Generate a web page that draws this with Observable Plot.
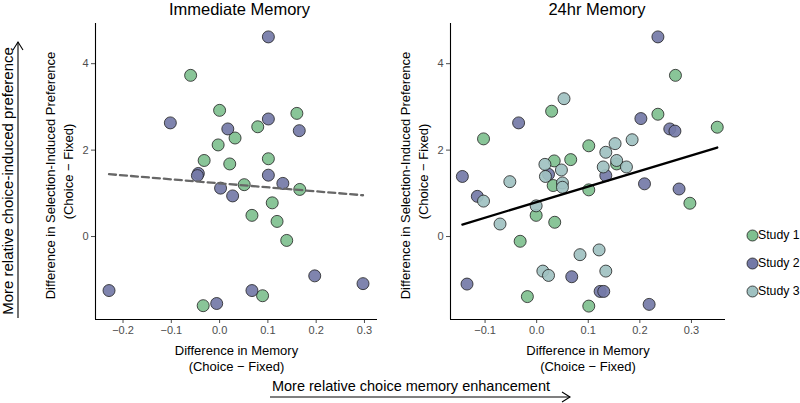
<!DOCTYPE html>
<html><head><meta charset="utf-8">
<script src="https://cdn.jsdelivr.net/npm/d3@7"></script>
<script src="https://cdn.jsdelivr.net/npm/@observablehq/plot@0.6"></script>
<style>
body{margin:0;background:#fff;font-family:"Liberation Sans",Arial,sans-serif}
#wrap{position:relative;width:800px;height:403px;overflow:hidden;background:#fff}
#wrap > *{position:absolute}
</style></head><body><div id="wrap"></div>
<script>
// ---- data ----
const studies = ["Study 1", "Study 2", "Study 3"];
const studyColors = ["#7fc08f", "#7479a7", "#9fc1c1"];
const panelTitles = ["Immediate Memory", "24hr Memory"];
const yTitle = ["Difference in Selection-Induced Preference", "(Choice \u2212 Fixed)"];
const xTitle = ["Difference in Memory", "(Choice \u2212 Fixed)"];
const yTicks = [0, 2, 4];
const xTicksImm = [-0.2, -0.1, 0.0, 0.1, 0.2, 0.3];
const xTicks24 = [-0.1, 0.0, 0.1, 0.2, 0.3];

// Immediate memory: [memory difference, preference difference]
const immStudy1 = [[-0.060,3.73],[0.000,2.92],[0.160,2.85],[0.079,2.54],[0.032,2.28],[-0.003,2.12],[-0.032,1.76],[0.021,1.68],[0.101,1.80],[0.051,1.20],[0.166,1.09],[0.109,0.78],[0.067,0.49],[0.119,0.35],[0.139,-0.09],[0.089,-1.37],[-0.034,-1.60]];
const immStudy2 = [[0.101,4.62],[-0.102,2.63],[0.017,2.49],[0.101,2.72],[0.165,2.45],[-0.044,1.46],[-0.046,1.41],[0.002,1.12],[0.027,0.94],[0.101,1.42],[0.131,1.23],[-0.229,-1.25],[0.067,-1.25],[-0.006,-1.55],[0.197,-0.91],[0.297,-1.09]];
// 24hr memory
const d24Study1 = [[0.269,3.73],[0.029,2.90],[0.235,2.83],[0.350,2.53],[-0.103,2.26],[0.101,2.10],[0.034,1.75],[0.066,1.78],[0.155,1.68],[0.032,1.18],[0.101,1.08],[-0.001,0.49],[0.035,0.33],[0.297,0.77],[-0.032,-0.11],[-0.018,-1.39],[0.101,-1.61]];
const d24Study2 = [[0.235,4.62],[-0.035,2.63],[0.202,2.73],[0.258,2.49],[0.268,2.44],[-0.144,1.39],[0.023,1.44],[0.134,1.41],[-0.115,0.93],[0.209,1.22],[0.276,1.10],[-0.135,-1.10],[0.068,-0.93],[0.123,-1.27],[0.130,-1.27],[0.218,-1.57]];
const d24Study3 = [[0.053,3.19],[0.016,1.67],[0.017,1.39],[0.048,1.54],[0.050,1.24],[0.050,1.14],[-0.052,1.27],[-0.103,0.82],[-0.001,0.71],[-0.071,0.29],[0.134,1.95],[0.129,1.61],[0.152,2.15],[0.185,2.24],[0.155,1.76],[0.174,1.61],[0.084,-0.42],[0.121,-0.31],[0.134,-0.80],[0.012,-0.80],[0.023,-0.90]];

// ---- build tables ----
const toRows = (arr, study) => arr.map(([x, y]) => ({x, y, study}));
const immData = [...toRows(immStudy1, "Study 1"), ...toRows(immStudy2, "Study 2")];
const d24Data = [...toRows(d24Study1, "Study 1"), ...toRows(d24Study2, "Study 2"), ...toRows(d24Study3, "Study 3")];

const yDomain = [-1.92, 4.93];
const wrap = document.getElementById("wrap");

function panel({data, title, titleDx, xDomain, xTicks, lineStyle, width, marginLeft, marginRight}) {
  return Plot.plot({
    width, height: 403,
    marginLeft, marginRight, marginTop: 23, marginBottom: 84,
    style: {fontFamily: "Liberation Sans, Arial, sans-serif", fontSize: "11px", color: "#4d4d4d", background: "transparent", overflow: "visible"},
    x: {domain: xDomain, ticks: xTicks, tickFormat: d3.format(".1f"), tickSize: 4, tickPadding: 3, label: null},
    y: {domain: yDomain, ticks: yTicks, tickFormat: d3.format("d"), tickSize: 4, tickPadding: 3, label: null},
    color: {domain: studies, range: studyColors},
    marks: [
      Plot.ruleY([yDomain[0]], {stroke: "#000", strokeWidth: 1.1}),
      Plot.ruleX([xDomain[0]], {stroke: "#000", strokeWidth: 1.1}),
      Plot.dot(data, {x: "x", y: "y", fill: "study", r: 6, stroke: "#1f1f1f", strokeWidth: 0.8, fillOpacity: 0.92}),
      Plot.linearRegressionY(data, {x: "x", y: "y", ci: 0, ...lineStyle}),
      Plot.text([title], {frameAnchor: "top", textAnchor: "middle", lineAnchor: "middle", dx: titleDx, dy: -14, fontSize: 16.5, fill: "#000"}),
      Plot.text([yTitle[0]], {frameAnchor: "left", textAnchor: "middle", lineAnchor: "middle", rotate: -90, dx: -45, dy: 4, fontSize: 13, fill: "#000"}),
      Plot.text([yTitle[1]], {frameAnchor: "left", textAnchor: "middle", lineAnchor: "middle", rotate: -90, dx: -27, fontSize: 13, fill: "#000"}),
      Plot.text([xTitle[0]], {frameAnchor: "bottom", textAnchor: "middle", lineAnchor: "middle", dy: 31, fontSize: 13, fill: "#000"}),
      Plot.text([xTitle[1]], {frameAnchor: "bottom", textAnchor: "middle", lineAnchor: "middle", dy: 47, fontSize: 13, fill: "#000"})
    ]
  });
}

const left = panel({data: immData, title: panelTitles[0], titleDx: 3, xDomain: [-0.257, 0.327], xTicks: xTicksImm,
  lineStyle: {stroke: "#676767", strokeWidth: 2.3, strokeDasharray: "7,4"}, width: 390, marginLeft: 95, marginRight: 13});
left.style.left = "0px"; left.style.top = "0px";
wrap.appendChild(left);

const right = panel({data: d24Data, title: panelTitles[1], titleDx: 9, xDomain: [-0.167, 0.366], xTicks: xTicks24,
  lineStyle: {stroke: "#000", strokeWidth: 2.3}, width: 420, marginLeft: 70, marginRight: 75});
right.style.left = "380px"; right.style.top = "0px";
wrap.appendChild(right);

// legend
const legend = Plot.plot({
  width: 60, height: 86, margin: 0,
  style: {fontFamily: "Liberation Sans, Arial, sans-serif", background: "transparent", overflow: "visible"},
  x: {domain: [0, 1], range: [12, 60], axis: null},
  y: {type: "point", domain: studies, range: [15, 71], padding: 0, axis: null},
  color: {domain: studies, range: studyColors},
  marks: [
    Plot.dot(studies, {x: 0, y: d => d, fill: d => d, r: 5.5, stroke: "#1f1f1f", strokeWidth: 0.8}),
    Plot.text(studies, {x: 0, y: d => d, text: d => d, dx: 5.5, textAnchor: "start", fontSize: 12.3, fill: "#000"})
  ]
});
legend.style.left = "740px"; legend.style.top = "220px";
wrap.appendChild(legend);

// outer annotations
const ns = "http://www.w3.org/2000/svg";
const ann = document.createElementNS(ns, "svg");
ann.setAttribute("width", 800); ann.setAttribute("height", 403);
ann.style.left = "0px"; ann.style.top = "0px"; ann.style.pointerEvents = "none";
ann.innerHTML = `
<g font-family="Liberation Sans, Arial, sans-serif" fill="#000">
  <text font-size="15" transform="translate(7.5,181) rotate(-90)" text-anchor="middle" dominant-baseline="central">More relative choice-induced preference</text>
  <text font-size="14.5" x="411" y="386" text-anchor="middle" dominant-baseline="central">More relative choice memory enhancement</text>
</g>
<g stroke="#000" stroke-width="1.1" fill="none">
  <line x1="18" y1="318" x2="18" y2="42"/>
  <polyline points="13,50 18,42 23,50"/>
  <line x1="270" y1="397" x2="570" y2="397"/>
  <polyline points="562,392 570,397 562,402"/>
</g>`;
wrap.appendChild(ann);
</script></body></html>
